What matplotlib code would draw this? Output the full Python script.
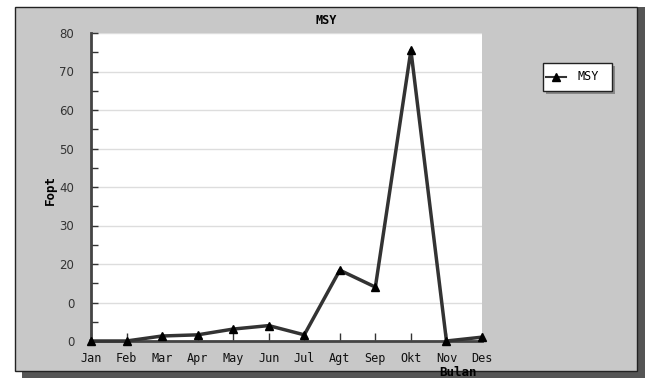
import numpy as np
import matplotlib
matplotlib.use("Agg")
import matplotlib.pyplot as plt
from matplotlib.patches import Rectangle
from matplotlib.lines import Line2D

# Fopt per bulan
bulan = ["Jan", "Feb", "Mar", "Apr", "May", "Jun", "Jul", "Agt", "Sep", "Okt", "Nov", "Des"]
fopt = [0.0, 0.0, 1.3, 1.6, 3.1, 4.0, 1.6, 18.4, 14.0, 75.5, 0.0, 1.0]
y_ticks = [0, 10, 20, 30, 40, 50, 60, 70, 80]
y_tick_labels = ["0", "0", "20", "30", "40", "50", "60", "70", "80"]

W, H = 652, 381
fig = plt.figure(figsize=(W / 100, H / 100), dpi=100)
fig.patch.set_facecolor("white")

def fx(px):
    return px / W

def fy(py):
    return 1 - py / H

# panel abu-abu dengan bayangan
fig.add_artist(Rectangle((fx(22), fy(378)), fx(623), 371 / H, transform=fig.transFigure,
                         facecolor="#555555", edgecolor="none", zorder=0))
fig.add_artist(Rectangle((fx(15), fy(371)), fx(622), 364 / H, transform=fig.transFigure,
                         facecolor="#c8c8c8", edgecolor="#222222", lw=1, zorder=0.5))

ax = fig.add_axes([fx(91), fy(341), fx(482 - 91), (341 - 33) / H])
ax.set_zorder(1)
ax.set_facecolor("white")
x = np.arange(len(bulan))
ax.plot(x, fopt, color="#333333", lw=2.5, marker="^", markersize=6,
        markerfacecolor="black", markeredgecolor="black", clip_on=False, zorder=3)

ax.set_xlim(0, len(bulan) - 1)
ax.set_ylim(0, 80)
ax.set_yticks(y_ticks)
ax.set_yticklabels(y_tick_labels, family="DejaVu Sans", fontsize=8.5, color="#333333")
ax.set_yticks(np.arange(5, 80, 10), minor=True)
ax.set_xticks(x)
ax.set_xticklabels(bulan, family="DejaVu Sans Mono", fontsize=8.5, color="#111111")
ax.tick_params(axis="y", which="both", direction="in", length=5, width=1, color="#333333", pad=12)
ax.tick_params(axis="x", direction="in", length=6, width=1, color="#333333", pad=8)
ax.grid(axis="y", color="#dddddd", lw=1)
ax.set_axisbelow(True)
for s in ["top", "right"]:
    ax.spines[s].set_visible(False)
for s in ["left", "bottom"]:
    ax.spines[s].set_color("#444444")
    ax.spines[s].set_linewidth(2)

fig.text(fx(326), fy(20), "MSY", ha="center", va="center", family="DejaVu Sans Mono",
         fontweight="bold", fontsize=8.5, zorder=3)
fig.text(fx(50), fy(190), "Fopt", ha="center", va="center", rotation=90,
         family="DejaVu Sans Mono", fontweight="bold", fontsize=9, zorder=3)
fig.text(fx(458), fy(373), "Bulan", ha="center", va="center",
         family="DejaVu Sans Mono", fontweight="bold", fontsize=9, zorder=3)

# legenda
fig.add_artist(Rectangle((fx(546), fy(94)), fx(69), 28 / H, transform=fig.transFigure,
                         facecolor="#888888", edgecolor="none", zorder=1))
fig.add_artist(Rectangle((fx(543), fy(91)), fx(69), 28 / H, transform=fig.transFigure,
                         facecolor="white", edgecolor="#222222", lw=1, zorder=2))
fig.add_artist(Line2D([fx(546), fx(566)], [fy(77), fy(77)], transform=fig.transFigure,
                      color="#333333", lw=1.5, zorder=3))
fig.add_artist(Line2D([fx(556)], [fy(77)], transform=fig.transFigure, marker="^",
                      markersize=6, color="black", zorder=4))
fig.text(fx(588), fy(77), "MSY", ha="center", va="center", family="DejaVu Sans Mono",
         fontsize=8.5, zorder=4)

fig.savefig("out.png", dpi=100)
